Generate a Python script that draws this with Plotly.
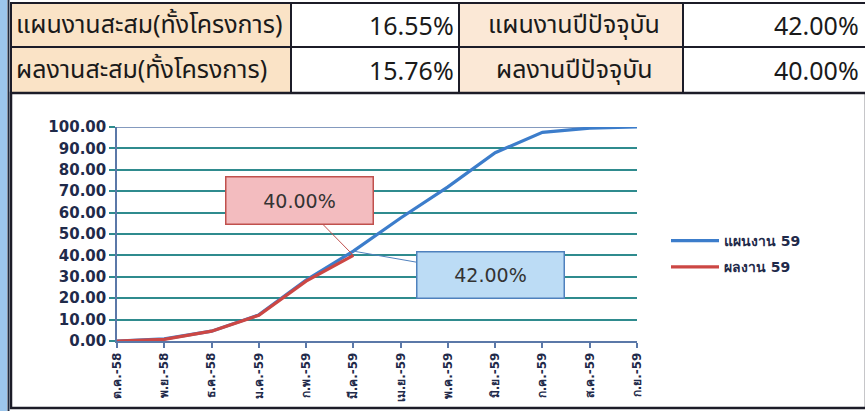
import plotly.graph_objects as go

W, H = 865, 411
ML, MR, MT, MB = 117, 228, 127, 70
PW, PH = W - ML - MR, H - MT - MB

months = ["ต.ค.-58", "พ.ย.-58", "ธ.ค.-58", "ม.ค.-59", "ก.พ.-59", "มี.ค.-59",
          "เม.ย.-59", "พ.ค.-59", "มิ.ย.-59", "ก.ค.-59", "ส.ค.-59", "ก.ย.-59"]
plan_59 = [0.0, 1.0, 4.6, 12.2, 28.5, 42.0, 57.5, 72.0, 88.0, 97.5, 99.5, 100.0]
result_59 = [0.0, 0.8, 4.6, 12.0, 28.0, 40.0]
yticks = [0, 10, 20, 30, 40, 50, 60, 70, 80, 90, 100]

table_labels = ["แผนงานสะสม(ทั้งโครงการ)", "ผลงานสะสม(ทั้งโครงการ)"]
table_values = ["16.55%", "15.76%"]
year_labels = ["แผนงานปีปัจจุบัน", "ผลงานปีปัจจุบัน"]
year_values = ["42.00%", "40.00%"]


def X(px):
    return (px - ML) / PW


def Y(py):
    return (H - MB - py) / PH


THAI = "Tahoma, 'Noto Sans Thai', 'Noto Sans', 'DejaVu Sans', sans-serif"
NUM = "'Noto Sans', 'DejaVu Sans', sans-serif"
BOLD = "Verdana, 'DejaVu Sans', sans-serif"

fig = go.Figure()
fig.add_trace(go.Scatter(x=months, y=plan_59, mode="lines", name="แผนงาน 59", legendgroup="a",
                         line=dict(color="#3C7DCB", width=3.2), cliponaxis=False))
fig.add_trace(go.Scatter(x=months[:len(result_59)], y=result_59, mode="lines", name="ผลงาน 59",
                         legendgroup="b", line=dict(color="#CC4744", width=3.2), cliponaxis=False))

shapes = []
shapes.append(dict(type="rect", xref="paper", yref="paper", x0=X(0), x1=X(7), y0=Y(411), y1=Y(0),
                   fillcolor="#9CC6EC", line=dict(width=0), layer="below"))
shapes.append(dict(type="line", xref="paper", yref="paper", x0=X(8.5), x1=X(8.5), y0=Y(411), y1=Y(0),
                   line=dict(color="#1E2A40", width=2)))
cols = [11, 291, 459, 683, 866]
rows = [3, 47, 93]
fills = ["#FAE3C6", "#FFFFFF", "#FBE8D6", "#FFFFFF"]
for r in range(2):
    for c in range(4):
        shapes.append(dict(type="rect", xref="paper", yref="paper",
                           x0=X(cols[c]), x1=X(cols[c + 1]), y0=Y(rows[r + 1]), y1=Y(rows[r]),
                           fillcolor=fills[c], line=dict(color="#1C1C28", width=2), layer="below"))
shapes.append(dict(type="rect", xref="paper", yref="paper", x0=X(11), x1=X(866), y0=Y(408), y1=Y(93),
                   fillcolor="#FFFFFF", line=dict(color="#1C1C28", width=2.5), layer="below"))
# top gridline drawn in axis colour, as in the reference
shapes.append(dict(type="line", xref="paper", yref="y", x0=0, x1=1, y0=yticks[-1], y1=yticks[-1],
                   line=dict(color="#5B78A8", width=1.5), layer="below"))
fig.update_layout(shapes=shapes)

ann = []
for r in range(2):
    yc = Y((rows[r] + rows[r + 1]) / 2)
    ann.append(dict(x=X(14), y=yc, xref="paper", yref="paper", text=table_labels[r], showarrow=False,
                    xanchor="left", yanchor="middle", font=dict(family=THAI, size=25, color="#1A1A1A")))
    ann.append(dict(x=X(456), y=yc, xref="paper", yref="paper", text=table_values[r], showarrow=False,
                    xanchor="right", yanchor="middle", font=dict(family=NUM, size=25, color="#1A1A1A")))
    ann.append(dict(x=X(574), y=yc, xref="paper", yref="paper", text=year_labels[r], showarrow=False,
                    xanchor="center", yanchor="middle", font=dict(family=THAI, size=25, color="#1A1A1A")))
    ann.append(dict(x=X(861), y=yc, xref="paper", yref="paper", text=year_values[r], showarrow=False,
                    xanchor="right", yanchor="middle", font=dict(family=NUM, size=25, color="#1A1A1A")))

ann.append(dict(x=months[len(result_59) - 1], y=result_59[-1], xref="x", yref="y",
                text="40.00%", showarrow=True, arrowhead=0, arrowwidth=1, arrowcolor="#C0504D",
                ax=-54, ay=-55, width=142, height=42, bgcolor="#F3BCBF", bordercolor="#C0504D",
                borderwidth=1.5, borderpad=2, font=dict(family=BOLD, size=19, color="#333333")))
ann.append(dict(x=months[5], y=plan_59[5], xref="x", yref="y",
                text="42.00%", showarrow=True, arrowhead=0, arrowwidth=1, arrowcolor="#4F81BD",
                ax=137, ay=24, width=142, height=41, bgcolor="#BCDCF5", bordercolor="#4F81BD",
                borderwidth=1.5, borderpad=2, font=dict(family=BOLD, size=19, color="#333333")))
fig.update_layout(annotations=ann)

fig.update_layout(
    width=W, height=H, margin=dict(l=ML, r=MR, t=MT, b=MB, pad=0, autoexpand=False),
    paper_bgcolor="#FFFFFF", plot_bgcolor="#F9E4CE",
    showlegend=True,
    legend=dict(x=X(666), y=Y(225), xanchor="left", yanchor="top", bgcolor="rgba(0,0,0,0)",
                font=dict(family=BOLD, size=14, color="#1F2A4A", weight="bold"), itemwidth=48,
                traceorder="grouped", tracegroupgap=5),
    xaxis=dict(type="category", range=[0, len(months) - 1], showgrid=False, automargin=False,
               showline=True, linecolor="#5B78A8", linewidth=1.5,
               ticks="outside", ticklen=5, tickcolor="#5B78A8", tickwidth=1.5,
               tickangle=-90, tickfont=dict(family=BOLD, size=12, color="#1F2A4A", weight="bold"),
               zeroline=False, fixedrange=True),
    yaxis=dict(range=[0, 100], tickvals=yticks, tickformat=".2f", automargin=False,
               showgrid=True, gridcolor="#2F8B8E", gridwidth=1.5,
               showline=True, linecolor="#5B78A8", linewidth=1.5,
               ticks="outside", ticklen=6, tickcolor="#2F8B8E", tickwidth=1.5,
               tickfont=dict(family=BOLD, size=15, color="#1F2A4A", weight="bold"),
               zeroline=False, fixedrange=True),
)

fig.write_html("out.html", config={"displayModeBar": False},
               post_script="document.body.style.margin='0';document.body.style.overflow='hidden';")
